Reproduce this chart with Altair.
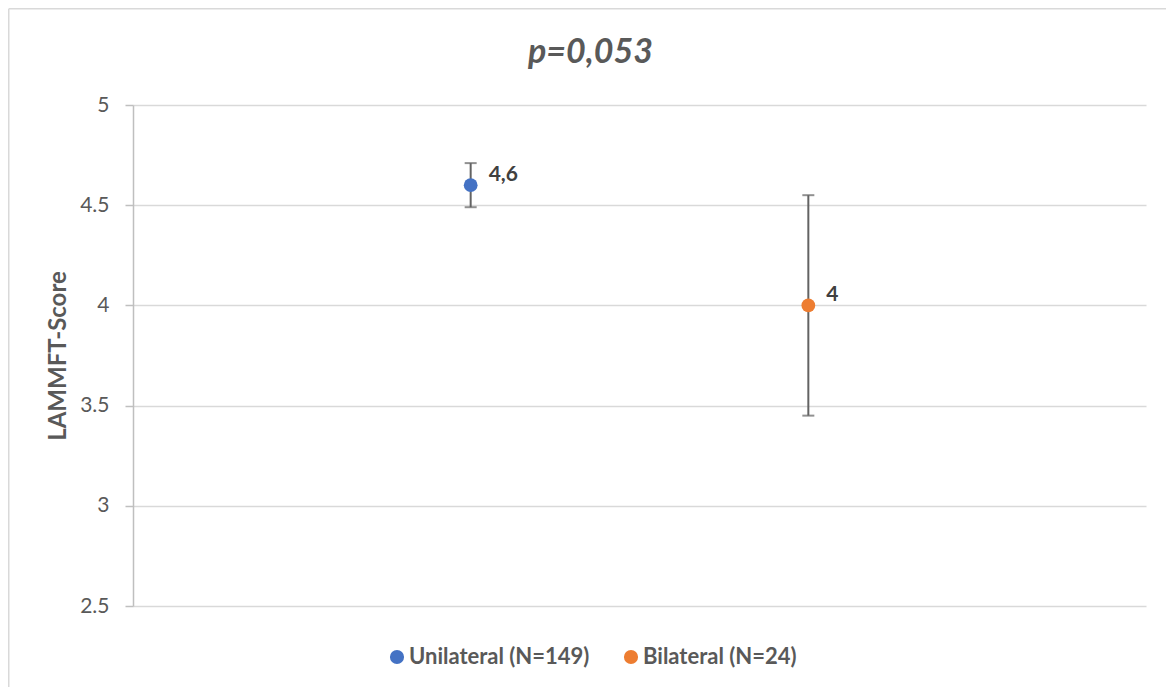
import altair as alt
import pandas as pd

groups = ["Unilateral (N=149)", "Bilateral (N=24)"]
x_pos = [1, 2]
means = [4.6, 4.0]
upper = [4.71, 4.55]
lower = [4.49, 3.45]
labels = ["4,6", "4"]
colors = ["#4472C4", "#ED7D31"]
y_ticks = [2.5, 3, 3.5, 4, 4.5, 5]
title_text = ["p=0,053"]

df = pd.DataFrame({
    "group": groups,
    "x": x_pos,
    "mean": means,
    "hi": upper,
    "lo": lower,
    "label": labels,
})

W, H = 1013, 501
FONT = "Lato"
GRAY = "#595959"
ERR = "#636363"

xenc = alt.X("x:Q", scale=alt.Scale(domain=[0, 3]), axis=None)
yaxis = alt.Axis(
    values=y_ticks,
    labelExpr="toString(datum.value)",
    labelFont=FONT,
    labelFontSize=21,
    labelColor=GRAY,
    labelPadding=16,
    tickSize=8,
    tickColor="#bfbfbf",
    tickWidth=1.5,
    domainColor="#bfbfbf",
    domainWidth=1.5,
    gridColor="#d9d9d9",
    gridWidth=1.5,
    titleFont=FONT,
    titleFontSize=24,
    titleFontWeight="bold",
    titleColor=GRAY,
    titleX=-68,
    titleY=H / 2,
    titleAngle=-90,
    titleAlign="center",
    titleBaseline="alphabetic",
)
yscale = alt.Scale(domain=[2.5, 5], nice=False, zero=False)


def Y(field):
    return alt.Y(field, scale=yscale, axis=yaxis, title="LAMMFT-Score")


base = alt.Chart(df)

whisker = base.mark_rule(color=ERR, strokeWidth=2).encode(
    x=xenc, y=Y("lo:Q"), y2="hi:Q"
)
cap_hi = base.mark_tick(orient="horizontal", size=12, thickness=2, color=ERR).encode(
    x=xenc, y=Y("hi:Q")
)
cap_lo = base.mark_tick(orient="horizontal", size=12, thickness=2, color=ERR).encode(
    x=xenc, y=Y("lo:Q")
)

points = base.mark_circle(size=190, opacity=1).encode(
    x=xenc,
    y=Y("mean:Q"),
    color=alt.Color(
        "group:N",
        sort=groups,
        scale=alt.Scale(domain=groups, range=colors),
        legend=alt.Legend(
            orient="none",
            legendX=253,
            legendY=541,
            direction="horizontal",
            title=None,
            symbolType="circle",
            symbolSize=200,
            symbolStrokeWidth=0,
            symbolOpacity=1,
            labelFont=FONT,
            labelFontSize=22,
            labelFontWeight="bold",
            labelColor=GRAY,
            labelOffset=1,
            labelLimit=400,
            columnPadding=30,
            padding=0,
        ),
    ),
)

text = base.mark_text(
    align="left", baseline="middle", dx=18, dy=-10,
    font=FONT, fontSize=21, fontWeight="bold", color="#404040"
).encode(x=xenc, y=Y("mean:Q"), text="label:N")

title_df = pd.DataFrame({"t": title_text})
title = alt.Chart(title_df).mark_text(
    align="center", baseline="alphabetic",
    font=FONT, fontSize=34, fontWeight="bold", fontStyle="italic", color=GRAY
).encode(x=alt.value(W / 2 - 49), y=alt.value(-42), text="t:N")

frame_df = pd.DataFrame({"k": [0]})
frame_left = alt.Chart(frame_df).mark_rule(color="#d9d9d9", strokeWidth=1.5).encode(
    x=alt.value(-124.25), y=alt.value(-96.25), y2=alt.value(H + 90)
)
frame_top = alt.Chart(frame_df).mark_rule(color="#d9d9d9", strokeWidth=1.5).encode(
    x=alt.value(-124.25), x2=alt.value(W + 30), y=alt.value(-96.25)
)

chart = alt.layer(frame_left, frame_top, whisker, cap_hi, cap_lo, points, text, title).properties(
    width=W,
    height=H,
    autosize=alt.AutoSizeParams(type="none"),
    padding={"left": 125, "top": 97, "right": 20, "bottom": 81},
).configure_view(stroke=None)

chart.save("out.html", embed_options={"renderer": "svg", "actions": False})
